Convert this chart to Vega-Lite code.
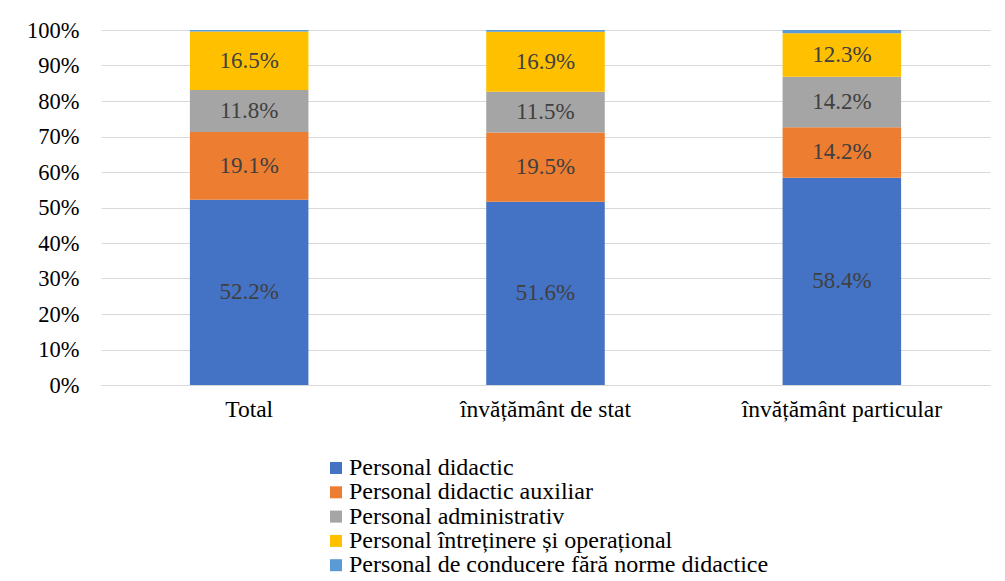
{
  "$schema": "https://vega.github.io/schema/vega-lite/v6.json",
  "width": 889,
  "height": 355,
  "autosize": {"type": "none"},
  "padding": {"left": 101, "top": 30, "right": 15, "bottom": 196},
  "background": "white",
  "config": {
    "font": "Liberation Serif",
    "view": {"stroke": null},
    "axis": {"labelFont": "Liberation Serif"},
    "legend": {"labelFont": "Liberation Serif"}
  },
  "data": {
    "values": [
      {"cat": "Total", "series": "Personal didactic", "ord": 1, "value": 52.2},
      {"cat": "Total", "series": "Personal didactic auxiliar", "ord": 2, "value": 19.1},
      {"cat": "Total", "series": "Personal administrativ", "ord": 3, "value": 11.8},
      {"cat": "Total", "series": "Personal întreținere și operațional", "ord": 4, "value": 16.5},
      {"cat": "Total", "series": "Personal de conducere fără norme didactice", "ord": 5, "value": 0.4},
      {"cat": "învățământ de stat", "series": "Personal didactic", "ord": 1, "value": 51.6},
      {"cat": "învățământ de stat", "series": "Personal didactic auxiliar", "ord": 2, "value": 19.5},
      {"cat": "învățământ de stat", "series": "Personal administrativ", "ord": 3, "value": 11.5},
      {"cat": "învățământ de stat", "series": "Personal întreținere și operațional", "ord": 4, "value": 16.9},
      {"cat": "învățământ de stat", "series": "Personal de conducere fără norme didactice", "ord": 5, "value": 0.5},
      {"cat": "învățământ particular", "series": "Personal didactic", "ord": 1, "value": 58.4},
      {"cat": "învățământ particular", "series": "Personal didactic auxiliar", "ord": 2, "value": 14.2},
      {"cat": "învățământ particular", "series": "Personal administrativ", "ord": 3, "value": 14.2},
      {"cat": "învățământ particular", "series": "Personal întreținere și operațional", "ord": 4, "value": 12.3},
      {"cat": "învățământ particular", "series": "Personal de conducere fără norme didactice", "ord": 5, "value": 0.9}
    ]
  },
  "transform": [
    {"stack": "value", "groupby": ["cat"], "sort": [{"field": "ord", "order": "ascending"}], "offset": "normalize", "as": ["y0", "y1"]},
    {"calculate": "(datum.y0 + datum.y1) / 2", "as": "ymid"},
    {"calculate": "format(datum.value, '.1f') + '%'", "as": "label"}
  ],
  "encoding": {
    "x": {
      "field": "cat",
      "type": "nominal",
      "sort": ["Total", "învățământ de stat", "învățământ particular"],
      "scale": {"paddingInner": 0.6, "paddingOuter": 0.3},
      "axis": {"title": null, "labelAngle": 0, "labelFontSize": 23.5, "labelColor": "#000000", "labelPadding": 12, "labelLimit": 400, "ticks": false, "domain": true, "domainColor": "#d9d9d9", "grid": false}
    },
    "y": {
      "field": "y0",
      "type": "quantitative",
      "scale": {"domain": [0, 1], "nice": false},
      "axis": {"title": null, "format": ".0%", "values": [0, 0.1, 0.2, 0.3, 0.4, 0.5, 0.6, 0.7, 0.8, 0.9, 1], "labelOverlap": false, "labelFontSize": 22.5, "labelColor": "#000000", "labelPadding": 22, "ticks": false, "domain": false, "grid": true, "gridColor": "#d9d9d9", "gridWidth": 1}
    }
  },
  "layer": [
    {
      "mark": {"type": "bar"},
      "encoding": {
        "y2": {"field": "y1"},
        "color": {
          "field": "series",
          "type": "nominal",
          "sort": ["Personal didactic", "Personal didactic auxiliar", "Personal administrativ", "Personal întreținere și operațional", "Personal de conducere fără norme didactice"],
          "scale": {
            "domain": ["Personal didactic", "Personal didactic auxiliar", "Personal administrativ", "Personal întreținere și operațional", "Personal de conducere fără norme didactice"],
            "range": ["#4472C4", "#ED7D31", "#A5A5A5", "#FFC000", "#5B9BD5"]
          },
          "legend": {
            "title": null,
            "orient": "none",
            "legendX": 223,
            "legendY": 426,
            "direction": "vertical",
            "symbolType": "square",
            "symbolSize": 144,
            "symbolStrokeWidth": 0,
            "labelFontSize": 24,
            "labelColor": "#000000",
            "labelOffset": 1,
            "rowPadding": 0.3,
            "labelLimit": 700
          }
        }
      }
    },
    {
      "transform": [{"filter": "datum.ord < 5"}],
      "mark": {"type": "text", "fontSize": 23, "color": "#404040", "baseline": "middle", "align": "center", "font": "Liberation Serif"},
      "encoding": {
        "y": {"field": "ymid", "type": "quantitative"},
        "text": {"field": "label", "type": "nominal"}
      }
    }
  ]
}
